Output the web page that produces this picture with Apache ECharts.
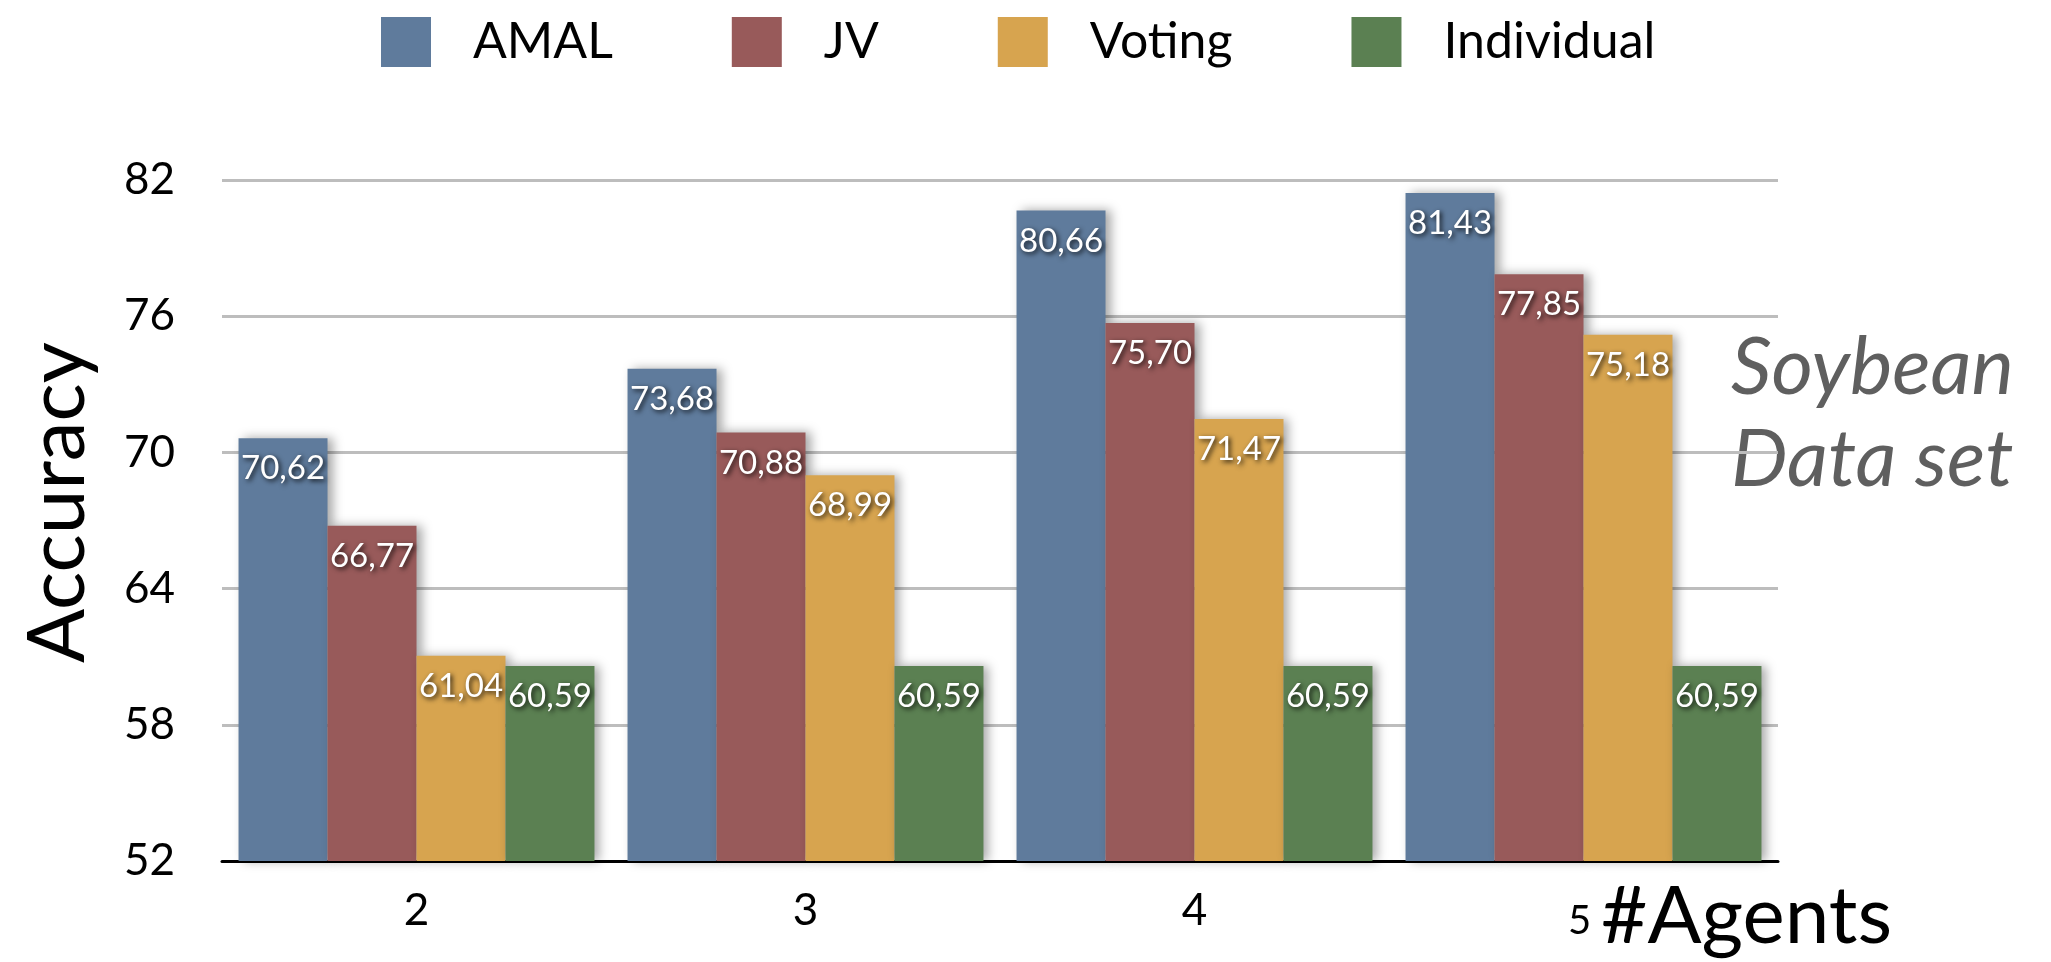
<!DOCTYPE html>
<html>
<head>
<meta charset="utf-8">
<title>Soybean accuracy</title>
<script src="https://cdn.jsdelivr.net/npm/echarts@6/dist/echarts.min.js"></script>
<style>
  html, body { margin: 0; padding: 0; background: #fff; }
  #chart { width: 2051px; height: 962px; }
</style>
</head>
<body>
<div id="chart"></div>
<script>
const agents = ['2', '3', '4', '5']
const amal = [70.62, 73.68, 80.66, 81.43]
const jv = [66.77, 70.88, 75.70, 77.85]
const voting = [61.04, 68.99, 71.47, 75.18]
const individual = [60.59, 60.59, 60.59, 60.59]
const yTicks = [52, 58, 64, 70, 76, 82]

const fontFamily = 'Lato, "DejaVu Sans", sans-serif'

function barSeries(name, data, color) {
  return {
    name: name,
    type: 'bar',
    data: data,
    barGap: '0%',
    barCategoryGap: '8.5%',
    itemStyle: {
      color: color,
      shadowColor: 'rgba(0,0,0,0.35)',
      shadowBlur: 10,
      shadowOffsetX: 5
    },
    label: {
      show: true,
      position: 'insideTop',
      distance: 14,
      color: '#fff',
      fontFamily: fontFamily,
      fontSize: 33,
      textShadowColor: 'rgba(0,0,0,0.85)',
      textShadowBlur: 5,
      textShadowOffsetX: 2,
      textShadowOffsetY: 2,
      formatter: p => p.value.toFixed(2).replace('.', ',')
    }
  }
}

const myChart = echarts.init(document.getElementById('chart'))
myChart.setOption({
  backgroundColor: '#fff',
  animation: false,
  textStyle: { fontFamily: fontFamily },
  legend: {
    left: 376,
    top: 12,
    icon: 'rect',
    itemWidth: 50,
    itemHeight: 50,
    itemGap: 119,
    textStyle: {
      fontSize: 50,
      color: '#000',
      padding: [0, 0, 0, 37]
    },
    data: ['AMAL', 'JV', 'Voting', 'Individual']
  },
  grid: {
    left: 222,
    right: 273,
    top: 180,
    bottom: 101,
    outerBoundsMode: 'none'
  },
  xAxis: {
    type: 'category',
    data: agents,
    name: '#Agents',
    nameLocation: 'end',
    nameGap: -177,
    nameTextStyle: {
      fontSize: 80,
      color: '#000',
      verticalAlign: 'top',
      lineHeight: 112
    },
    axisLine: { lineStyle: { color: '#000', width: 3 } },
    axisTick: { show: false },
    axisLabel: {
      fontSize: 44,
      color: '#000',
      margin: 28,
      // the last tick label sits small next to the axis name
      formatter: v => v === '5' ? '{s|5}' : v,
      rich: { s: { fontSize: 40, padding: [12, 8, 0, 0] } }
    }
  },
  yAxis: {
    type: 'value',
    min: 52,
    max: 82,
    name: 'Accuracy',
    nameLocation: 'middle',
    nameGap: 124,
    nameTextStyle: {
      fontSize: 80,
      color: '#000',
      padding: [0, 0, 0, 36]
    },
    axisLine: { show: false },
    axisTick: { show: false, customValues: yTicks },
    axisLabel: {
      fontSize: 44,
      color: '#000',
      margin: 47,
      customValues: yTicks
    },
    splitLine: { lineStyle: { color: '#bdbdbd', width: 3 } }
  },
  graphic: [
    {
      type: 'text',
      left: 1731,
      top: 322,
      style: {
        text: 'Soybean\nData set',
        fontFamily: fontFamily,
        fontStyle: 'italic',
        fontSize: 80,
        lineHeight: 92,
        fill: '#5f5f5f'
      }
    }
  ],
  series: [
    barSeries('AMAL', amal, '#5f7b9c'),
    barSeries('JV', jv, '#985a5a'),
    barSeries('Voting', voting, '#d7a44f'),
    barSeries('Individual', individual, '#5b8052')
  ]
})
</script>
</body>
</html>
